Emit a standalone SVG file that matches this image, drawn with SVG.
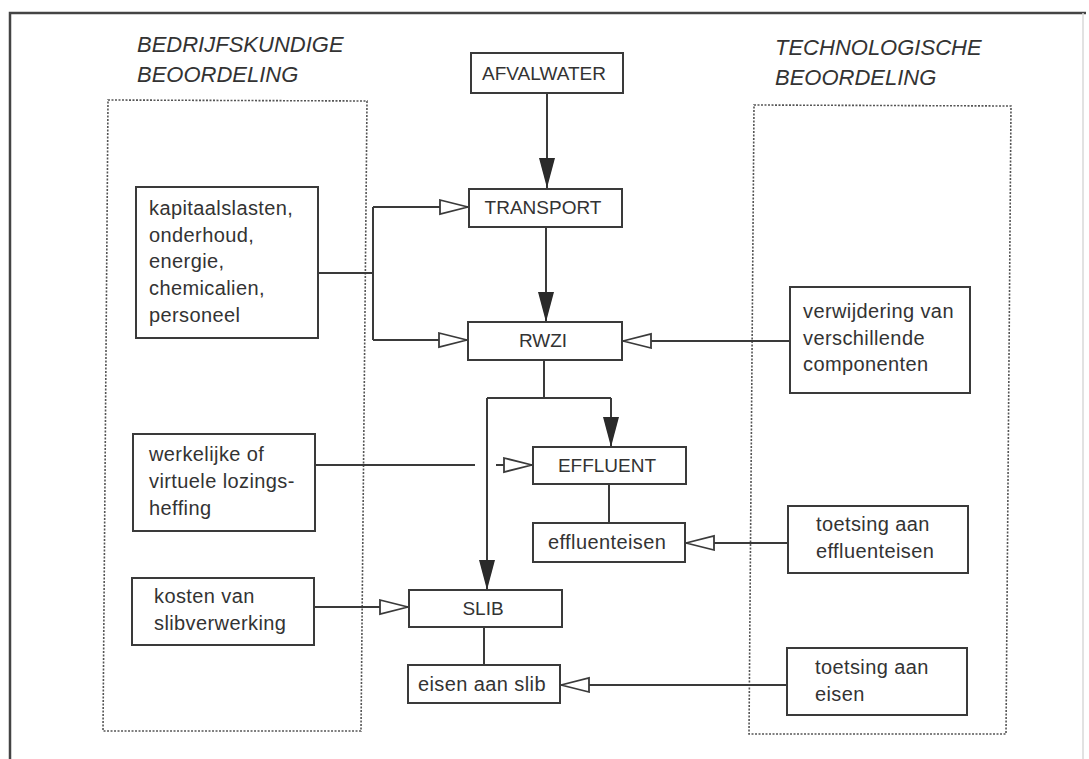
<svg xmlns="http://www.w3.org/2000/svg" width="1089" height="759" viewBox="0 0 1089 759">
<style>
.box{fill:#fff;stroke:#3a3a3a;stroke-width:2}
.dot{fill:none;stroke:#555;stroke-width:1.6;stroke-dasharray:2,1.5}
.ln{fill:none;stroke:#3a3a3a;stroke-width:2}
.t{font-family:"Liberation Sans",Arial,sans-serif;font-size:20px;fill:#333;letter-spacing:0.4px}
.c{font-family:"Liberation Sans",Arial,sans-serif;font-size:19px;fill:#333;text-anchor:middle}
.h{font-family:"Liberation Sans",Arial,sans-serif;font-size:22px;font-style:italic;fill:#333}
</style>
<defs>
<marker id="af" markerUnits="userSpaceOnUse" markerWidth="32" markerHeight="18" refX="30" refY="8" orient="auto"><path d="M0,0 L30,8 L0,16 Z" fill="#2a2a2a"/></marker>
<marker id="ao" markerUnits="userSpaceOnUse" markerWidth="32" markerHeight="18" refX="30" refY="8" orient="auto"><path d="M1,1 L29,8 L1,15 Z" fill="#fff" stroke="#3a3a3a" stroke-width="1.8"/></marker>
</defs>
<rect width="1089" height="759" fill="#fff"/>
<g id="frame">
<path d="M10,759 L10,13 L1086,13" fill="none" stroke="#444" stroke-width="2.5"/>
<path d="M1083,13 L1083,759" fill="none" stroke="#d8d8d8" stroke-width="1.5"/>
</g>
<g id="group-bedrijfskundig">
<path class="dot" d="M108,100 L367,101 L361,731 L103,731 Z"/>
<text class="h" x="137" y="52">BEDRIJFSKUNDIGE</text>
<text class="h" x="137" y="82">BEOORDELING</text>
</g>
<g id="group-technologisch">
<path class="dot" d="M754,105 L1011,106 L1006,734 L749,734 Z"/>
<text class="h" x="775" y="55">TECHNOLOGISCHE</text>
<text class="h" x="775" y="85">BEOORDELING</text>
</g>
<g id="connectors">
<path class="ln" d="M547,93 L547,188" marker-end="url(#af)"/>
<path class="ln" d="M546,227 L546,322" marker-end="url(#af)"/>
<path class="ln" d="M318,273 L373,273"/>
<path class="ln" d="M373,207 L373,340"/>
<path class="ln" d="M373,207 L469,207" marker-end="url(#ao)"/>
<path class="ln" d="M373,340 L468,340" marker-end="url(#ao)"/>
<path class="ln" d="M790,341 L622,341" marker-end="url(#ao)"/>
<path class="ln" d="M544,360 L544,398"/>
<path class="ln" d="M487,398 L611,398"/>
<path class="ln" d="M611,398 L611,447" marker-end="url(#af)"/>
<path class="ln" d="M487,398 L487,590" marker-end="url(#af)"/>
<path class="ln" d="M315,465 L475,465"/>
<path class="ln" d="M496,465 L533,465" marker-end="url(#ao)"/>
<path class="ln" d="M609,484 L609,523"/>
<path class="ln" d="M788,543 L685,543" marker-end="url(#ao)"/>
<path class="ln" d="M314,607 L409,607" marker-end="url(#ao)"/>
<path class="ln" d="M484,627 L484,665"/>
<path class="ln" d="M787,685 L560,685" marker-end="url(#ao)"/>
</g>
<g id="afvalwater"><rect class="box" x="471" y="53" width="152" height="40"/><text class="c" x="544" y="80">AFVALWATER</text></g>
<g id="transport"><rect class="box" x="469" y="189" width="153" height="38"/><text class="c" x="543" y="214">TRANSPORT</text></g>
<g id="rwzi"><rect class="box" x="468" y="322" width="154" height="38"/><text class="c" x="543" y="347">RWZI</text></g>
<g id="effluent"><rect class="box" x="533" y="447" width="153" height="37"/><text class="c" x="607" y="472">EFFLUENT</text></g>
<g id="effluenteisen"><rect class="box" x="533" y="523" width="152" height="39"/><text class="t" x="548" y="549">effluenteisen</text></g>
<g id="slib"><rect class="box" x="409" y="590" width="153" height="37"/><text class="c" x="483" y="615">SLIB</text></g>
<g id="eisen-aan-slib"><rect class="box" x="408" y="665" width="152" height="38"/><text class="t" x="418" y="691">eisen aan slib</text></g>
<g id="kosten-bedrijf"><rect class="box" x="136" y="187" width="182" height="151"/>
<text class="t" x="149" y="215">kapitaalslasten,</text>
<text class="t" x="149" y="242">onderhoud,</text>
<text class="t" x="149" y="268">energie,</text>
<text class="t" x="149" y="295">chemicalien,</text>
<text class="t" x="149" y="322">personeel</text></g>
<g id="lozingsheffing"><rect class="box" x="133" y="434" width="182" height="97"/>
<text class="t" x="149" y="461">werkelijke of</text>
<text class="t" x="149" y="488">virtuele lozings-</text>
<text class="t" x="149" y="515">heffing</text></g>
<g id="slibverwerking"><rect class="box" x="132" y="578" width="182" height="67"/>
<text class="t" x="154" y="603">kosten van</text>
<text class="t" x="154" y="630">slibverwerking</text></g>
<g id="verwijdering"><rect class="box" x="790" y="287" width="180" height="106"/>
<text class="t" x="803" y="318">verwijdering van</text>
<text class="t" x="803" y="345">verschillende</text>
<text class="t" x="803" y="371">componenten</text></g>
<g id="toetsing-effluent"><rect class="box" x="788" y="506" width="180" height="67"/>
<text class="t" x="816" y="531">toetsing aan</text>
<text class="t" x="816" y="558">effluenteisen</text></g>
<g id="toetsing-eisen"><rect class="box" x="787" y="648" width="180" height="67"/>
<text class="t" x="815" y="674">toetsing aan</text>
<text class="t" x="815" y="701">eisen</text></g>
</svg>
